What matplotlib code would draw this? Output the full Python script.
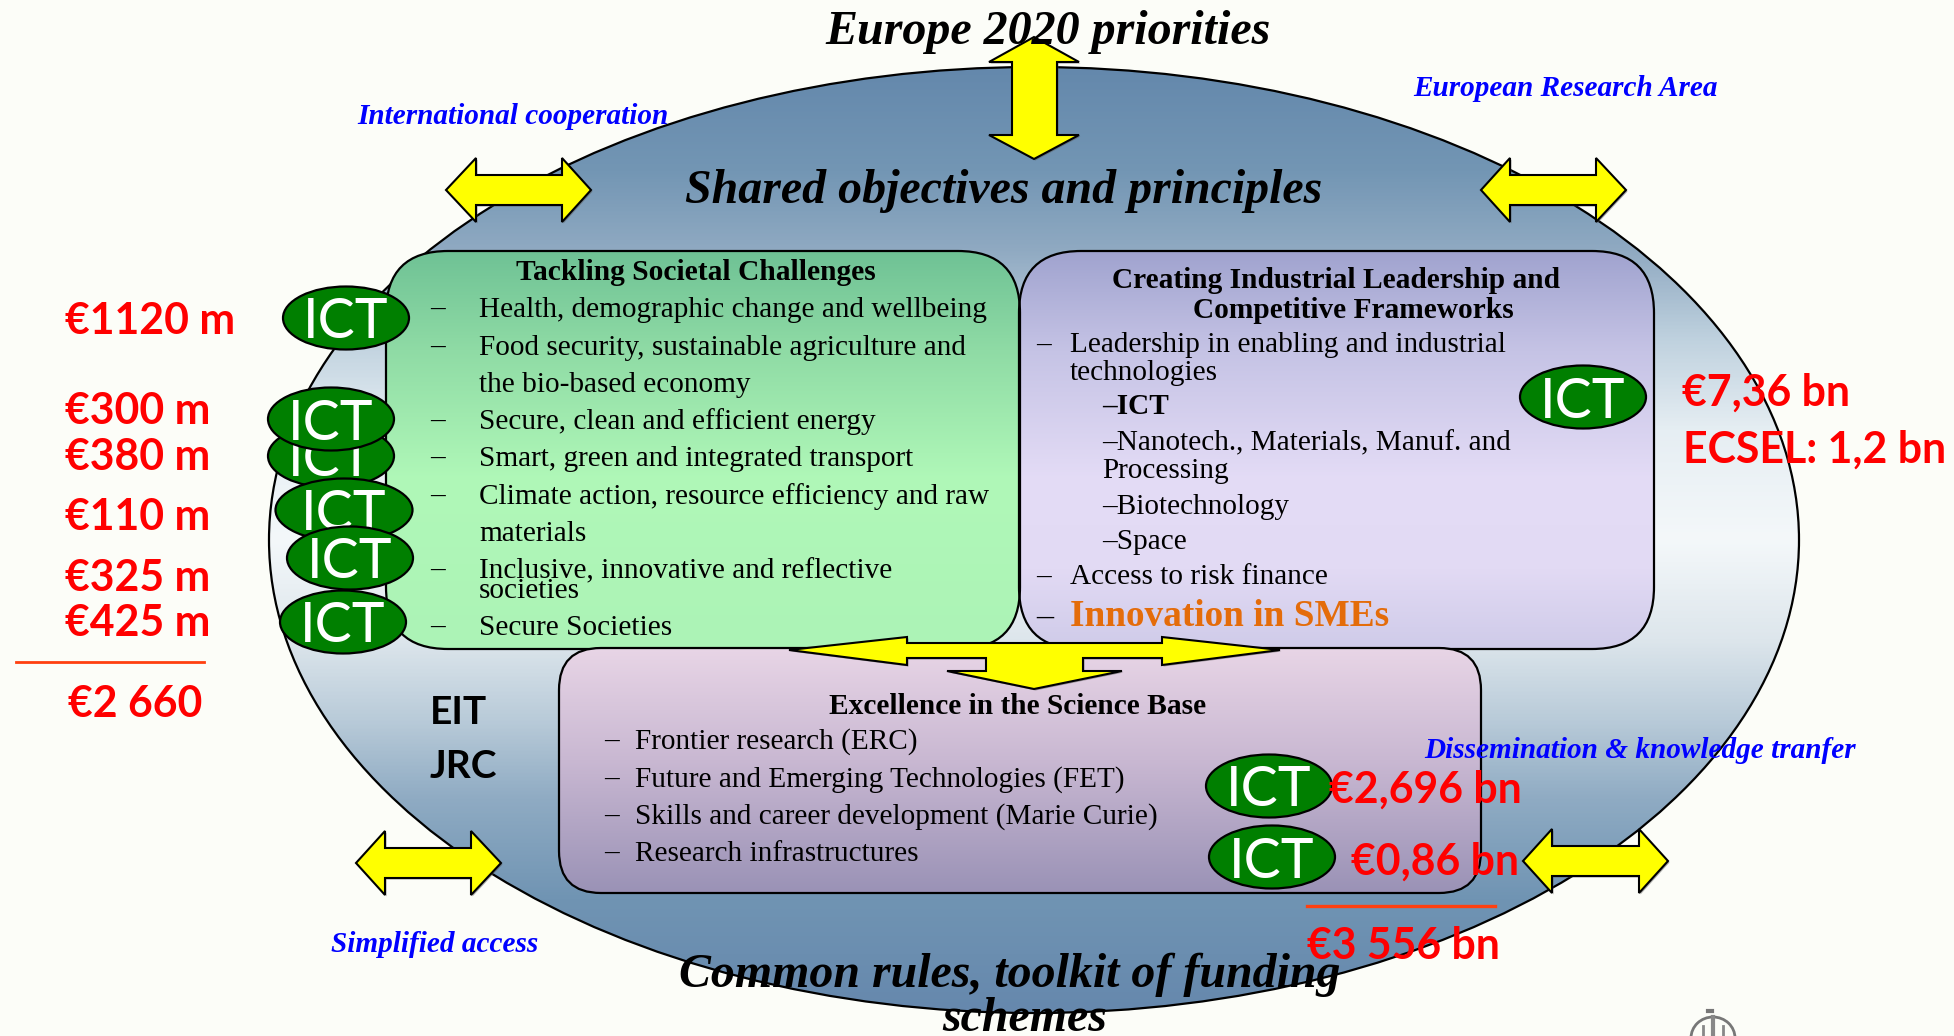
import matplotlib
matplotlib.use("Agg")
import numpy as np
import matplotlib.pyplot as plt
from matplotlib.colors import LinearSegmentedColormap
from matplotlib.patches import Ellipse, FancyBboxPatch, Polygon, Arc

# Texts of the diagram
TITLE_TOP = "Europe 2020 priorities"
TITLE_SHARED = "Shared objectives and principles"
TITLE_COMMON = ["Common rules, toolkit of funding", "schemes"]
BLUE_LABELS = ["International cooperation", "European Research Area",
               "Dissemination & knowledge tranfer", "Simplified access"]

GREEN_TITLE = "Tackling Societal Challenges"
GREEN_ITEMS = [
    ("–", "Health, demographic change and wellbeing"),
    ("–", "Food security, sustainable agriculture and"),
    ("", "the bio-based economy"),
    ("–", "Secure, clean and efficient energy"),
    ("–", "Smart, green and integrated transport"),
    ("–", "Climate action, resource efficiency and raw"),
    ("", "materials"),
    ("–", "Inclusive, innovative and reflective"),
    ("", "societies"),
    ("–", "Secure Societies"),
]
PURPLE_TITLE = ["Creating Industrial Leadership and", "Competitive Frameworks"]
PURPLE_ITEMS = ["Leadership in enabling and industrial", "technologies"]
PURPLE_SUB = ["–Nanotech., Materials, Manuf. and", "Processing", "–Biotechnology", "–Space"]
PURPLE_ICT = "–ICT"
PURPLE_ACCESS = "Access to risk finance"
PURPLE_SME = "Innovation in SMEs"
PINK_TITLE = "Excellence in the Science Base"
PINK_ITEMS = ["Frontier research (ERC)", "Future and Emerging Technologies (FET)",
              "Skills and career development (Marie Curie)", "Research infrastructures"]

LEFT_BUDGET = ["€1120 m", "€300 m", "€380 m", "€110 m", "€325 m", "€425 m"]
LEFT_TOTAL = "€2 660"
RIGHT_BUDGET = ["€7,36 bn", "ECSEL: 1,2 bn"]
PINK_BUDGET = ["€2,696 bn", "€0,86 bn"]
PINK_TOTAL = "€3 556 bn"
SIDE_LABELS = ["EIT", "JRC"]
ICT = "ICT"

BG = "#FCFDF8"
SERIF = "Liberation Serif"
SANS = "Lato"
PX = 0.72  # pixels to points at dpi 100

fig = plt.figure(figsize=(19.54, 10.36), dpi=100, facecolor=BG)
ax = fig.add_axes([0, 0, 1, 1])
ax.set_xlim(0, 1954)
ax.set_ylim(1036, 0)
ax.axis("off")


def gradient(patch, box, stops, z):
    x0, x1, y0, y1 = box
    cmap = LinearSegmentedColormap.from_list(
        "g", [((y - y0) / (y1 - y0), c) for y, c in stops])
    im = ax.imshow(np.linspace(0, 1, 512).reshape(-1, 1), cmap=cmap, aspect="auto",
                   extent=(x0, x1, y1, y0), zorder=z, interpolation="bilinear")
    patch.set_facecolor("none")
    patch.set_edgecolor("black")
    patch.set_linewidth(1.6)
    patch.set_zorder(z + 0.1)
    ax.add_patch(patch)
    im.set_clip_path(patch)


def round_box(x0, x1, y0, y1, stops, z, r=62):
    box = FancyBboxPatch((x0 + r, y0 + r), x1 - x0 - 2 * r, y1 - y0 - 2 * r,
                         boxstyle="round,pad=%d,rounding_size=%d" % (r, r))
    gradient(box, (x0, x1, y0, y1), stops, z)


def h_arrow(x0, x1, n0, n1, yc, head, shaft):
    pts = [(x0, yc), (n0, yc - head), (n0, yc - shaft), (n1, yc - shaft), (n1, yc - head),
           (x1, yc), (n1, yc + head), (n1, yc + shaft), (n0, yc + shaft), (n0, yc + head)]
    yellow(pts)


def yellow(pts):
    ax.add_patch(Polygon(pts, closed=True, facecolor="#FFFF00", edgecolor="black",
                         linewidth=1.5, zorder=5))
    # the thick shaft edges of the original have a small shadow
    ax.add_patch(Polygon([(x + 1.5, y + 1.5) for x, y in pts], closed=True, facecolor="#555555",
                         edgecolor="none", alpha=0.5, zorder=4.9))


def ict(x, y, z, w=126):
    ax.add_patch(Ellipse((x, y), w, 63, facecolor="#007F00", edgecolor="black", linewidth=1.6, zorder=z))
    ax.text(x, y + 5, ICT, color="white", family=SANS, fontsize=40, fontweight="normal",
            ha="center", va="center", zorder=z + 0.01)


def serif(x, y, s, size=29.3, **kw):
    kw.setdefault("ha", "left")
    kw.setdefault("color", "black")
    ax.text(x, y + 3, s, family=SERIF, fontsize=size * PX, va="center", zorder=8, **kw)


def red(x, y, s, size=30.8):
    ax.text(x, y + 3, s, family=SANS, fontsize=size, fontweight="bold", color="#FF0000",
            ha="left", va="center", zorder=9)


# Big ellipse
ell = Ellipse((1034, 540), 1530, 946)
gradient(ell, (269, 1799, 67, 1013),
         [(67, "#6488AC"), (170, "#7396B4"), (250, "#90AAC2"), (340, "#C0D2DF"), (430, "#E6EEF3"),
          (540, "#F4F8FA"), (640, "#DDE6EC"), (720, "#B9CBD9"), (800, "#8FABC3"),
          (900, "#7094B3"), (1013, "#6688AD")], 1)

# Inner boxes
round_box(386, 1020, 251, 649,
          [(251, "#6FC295"), (350, "#8FDBA5"), (480, "#B0F8B8"), (649, "#ACF3B6")], 2)
round_box(1019, 1654, 251, 649,
          [(251, "#A0A3CF"), (350, "#C5C3E5"), (480, "#E4DCF6"), (570, "#E2DAF4"), (649, "#CFCBE9")], 2)
round_box(559, 1481, 648, 893,
          [(648, "#E8D5E6"), (760, "#C9B8D2"), (893, "#9A92B6")], 2.5, r=42)

# Yellow arrows
h_arrow(446, 591, 476, 562, 190, 32, 15)
h_arrow(1481, 1626, 1510, 1596, 190, 32, 15)
h_arrow(356, 501, 385, 471, 863, 32, 15)
h_arrow(1523, 1668, 1552, 1639, 861, 32, 15)
yellow([(1034, 37), (1079, 62), (1057, 62), (1057, 135), (1079, 135), (1034, 159), (989, 135),
        (1012, 135), (1012, 62), (989, 62)])
yellow([(789, 650), (907, 637), (907, 643), (1162, 643), (1162, 637), (1280, 650), (1162, 665),
        (1162, 658), (1083, 658), (1083, 671), (1122, 671), (1034, 689), (947, 671), (986, 671),
        (986, 658), (907, 658), (907, 665)])

# ICT badges, later ones lie on top
for x, y, z, w in [(331, 456, 6.0, 126), (331, 419, 6.1, 126), (344, 510, 6.2, 137), (350, 558, 6.3, 126),
                   (343, 622, 6.4, 126), (346, 318, 6.5, 126), (1583, 397, 6.6, 126),
                   (1269, 786, 6.7, 126), (1272, 857, 6.8, 126)]:
    ict(x, y, z, w)

# Headings
serif(1048, 29, TITLE_TOP, 48, ha="center", fontweight="bold", fontstyle="italic")
serif(1004, 188, TITLE_SHARED, 47.9, ha="center", fontweight="bold", fontstyle="italic")
serif(1010, 972, TITLE_COMMON[0], 47.9, ha="center", fontweight="bold", fontstyle="italic")
serif(1025, 1016, TITLE_COMMON[1], 47.9, ha="center", fontweight="bold", fontstyle="italic")

for s, (x, y) in zip(BLUE_LABELS, [(357, 114), (1413, 86), (1424, 748), (331, 942)]):
    serif(x, y, s, 29.3, color="#0000FF", fontweight="bold", fontstyle="italic")

# Green box
serif(696, 270, GREEN_TITLE, 29.5, ha="center", fontweight="bold")
for (dash, s), y in zip(GREEN_ITEMS, [307, 345, 382, 419, 456, 494, 531, 568, 588, 625]):
    if dash:
        serif(430, y, dash)
    serif(479, y, s)

# Purple box
serif(1336, 277, PURPLE_TITLE[0], 29.4, ha="center", fontweight="bold")
serif(1353, 307, PURPLE_TITLE[1], 29.4, ha="center", fontweight="bold")
serif(1036, 343, "–")
for s, y in zip(PURPLE_ITEMS, [342, 370]):
    serif(1070, y, s)
serif(1102, 404, PURPLE_ICT, fontweight="bold")
for s, y in zip(PURPLE_SUB, [440, 468, 504, 539]):
    serif(1102, y, s)
serif(1036, 575, "–")
serif(1070, 574, PURPLE_ACCESS)
serif(1036, 615, "–", 34)
serif(1070, 614, PURPLE_SME, 37.3, color="#E46C0A", fontweight="bold")

# Pink box
serif(1018, 703, PINK_TITLE, 29.4, ha="center", fontweight="bold")
for s, y in zip(PINK_ITEMS, [739, 777, 814, 851]):
    serif(604, y, "–")
    serif(635, y, s)

# Budgets
for s, y in zip(LEFT_BUDGET, [318, 408, 454, 514, 575, 620]):
    red(65, y, s)
ax.plot([16, 204], [662, 662], color="#FF4010", linewidth=2, zorder=9)
red(68, 701, LEFT_TOTAL)
for s, (x, y) in zip(RIGHT_BUDGET, [(1682, 390), (1683, 447)]):
    red(x, y, s)
for s, (x, y) in zip(PINK_BUDGET, [(1329, 787), (1351, 859)]):
    red(x, y, s)
ax.plot([1307, 1495], [906, 906], color="#FF4010", linewidth=2.4, zorder=9)
red(1307, 943, PINK_TOTAL)
for s, y in zip(SIDE_LABELS, [710, 763]):
    ax.text(430, y + 3, s, family=SANS, fontsize=28, fontweight="bold", color="black", va="center", zorder=8)

# Small seal in the corner
ax.add_patch(Arc((1713, 1038), 44, 42, theta1=180, theta2=360, color="#777777", linewidth=2, zorder=8))
ax.plot([1708, 1712], [1011, 1011], color="#777777", linewidth=3, zorder=8)
ax.plot([1713, 1713], [1017, 1036], color="#888888", linewidth=3, zorder=8)
ax.plot([1703, 1703], [1026, 1036], color="#888888", linewidth=2, zorder=8)
ax.plot([1723, 1723], [1026, 1036], color="#888888", linewidth=2, zorder=8)

fig.savefig("out.png", dpi=100, facecolor=BG)
